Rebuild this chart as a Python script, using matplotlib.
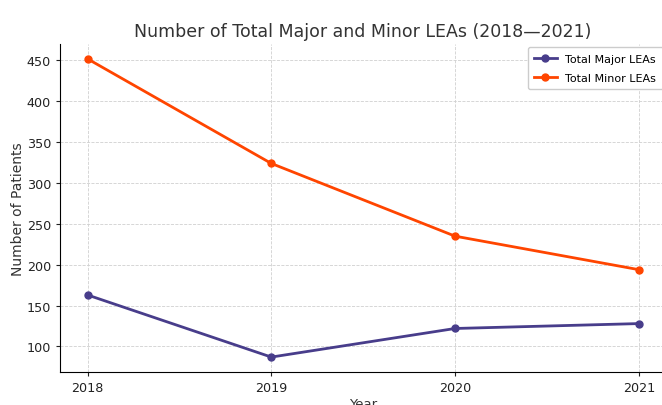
import matplotlib
matplotlib.use("Agg")
import matplotlib.pyplot as plt

years = [2018, 2019, 2020, 2021]
major = [163, 87, 122, 128]
minor = [452, 324, 235, 194]

fig = plt.figure(figsize=(6.62, 4.06), dpi=100)
ax = fig.add_axes([0.0906, 0.0813, 0.916, 0.808])

ax.plot(years, major, marker='o', color='#483D8B', lw=2, ms=5, label='Total Major LEAs')
ax.plot(years, minor, marker='o', color='#FF4500', lw=2, ms=5, label='Total Minor LEAs')

ax.set_xticks(years)
ax.set_xticklabels([str(y) for y in years])
ax.grid(True, linestyle='--', color='#d0d0d0', linewidth=0.6)
ax.set_axisbelow(True)
for s in ['top', 'right']:
    ax.spines[s].set_visible(False)
ax.tick_params(labelsize=9.2, length=3, colors='#222222')
ax.set_title('Number of Total Major and Minor LEAs (2018\u20142021)', fontsize=12.5, color='#333333', pad=5.5)
ax.set_xlabel('Year', fontsize=9.5, color='#333333', labelpad=2)
ax.set_ylabel('Number of Patients', fontsize=10, color='#333333')
ax.yaxis.set_label_coords(-0.058, 0.5)
ax.legend(loc='upper right', fontsize=8, frameon=True, framealpha=1, edgecolor='#cccccc',
          labelspacing=0.8, borderpad=0.6, borderaxespad=0.3)

fig.savefig('out.png', dpi=100)
